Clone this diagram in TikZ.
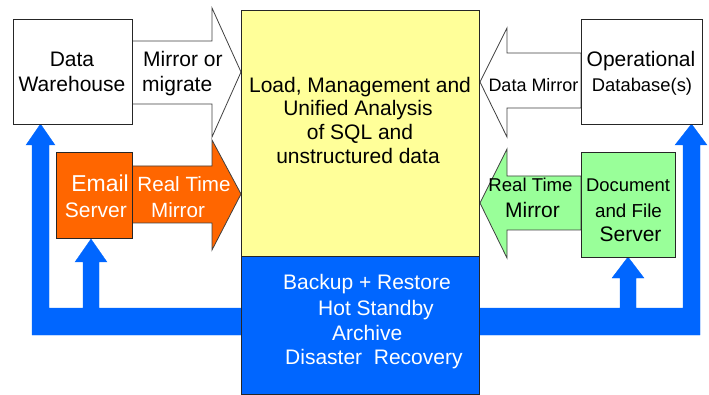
\documentclass[tikz,border=0pt]{standalone}
\usepackage{fontspec}
\setmainfont{Liberation Sans}
\definecolor{yel}{HTML}{FFFF99}
\definecolor{org}{HTML}{FF6600}
\definecolor{grn}{HTML}{99FF99}
\definecolor{blu}{HTML}{0066FF}
\definecolor{edge}{HTML}{404040}
\begin{document}
\begin{tikzpicture}[x=1pt,y=-1pt,
  box/.style={draw=black!85,line width=1.2pt,rectangle,anchor=north west,inner sep=0pt},
  barrow/.style={draw=edge,line width=0.8pt,line join=miter},
  bluearrow/.style={fill=blu,draw=blu,line width=0.3pt},
  t/.style={inner sep=0pt,anchor=base,font=\fontsize{21}{25}\selectfont},
  tw/.style={t,text=white}]
\useasboundingbox (0,0) rectangle (709,395);
% blue loops
\path[bluearrow] (40.5,124) -- (55,145) -- (49,145) -- (49,308) -- (83,308) -- (83,262) -- (75,262) -- (91,239) -- (107,262) -- (99,262) -- (99,308) -- (241,308) -- (241,335) -- (32,335) -- (32,145) -- (26,145) -- cycle;
\path[bluearrow] (691.5,124) -- (707,145) -- (700,145) -- (700,335) -- (479,335) -- (479,308) -- (620,308) -- (620,278) -- (612,278) -- (628,257) -- (644,278) -- (636,278) -- (636,308) -- (683,308) -- (683,145) -- (675,145) -- cycle;
% block arrows
\path[barrow,fill=white] (132,41) -- (212,41) -- (212,8) -- (241,72) -- (212,137) -- (212,104) -- (132,104) -- cycle;
\path[barrow,fill=org] (132,166) -- (212,166) -- (212,140) -- (241,194) -- (212,250) -- (212,223) -- (132,223) -- cycle;
\path[barrow,fill=white] (581,53) -- (507,53) -- (507,28) -- (480,82) -- (507,137) -- (507,108) -- (581,108) -- cycle;
\path[barrow,fill=grn] (581,176) -- (507,176) -- (507,149) -- (480,203) -- (507,258) -- (507,230) -- (581,230) -- cycle;
% boxes
\node[box,fill=white,minimum width=119pt,minimum height=105pt] (dw) at (13,19) {};
\node[box,fill=org,minimum width=76pt,minimum height=86pt] (email) at (56,152) {};
\node[box,fill=yel,minimum width=238pt,minimum height=246pt] (core) at (241,10) {};
\node[box,fill=blu,minimum width=238pt,minimum height=138pt] (backup) at (241,256) {};
\node[box,fill=white,minimum width=121pt,minimum height=105pt] (opdb) at (581,19) {};
\node[box,fill=grn,minimum width=94pt,minimum height=105pt] (doc) at (581,152) {};
% texts
\node[t] (dw1) at (72,67) {Data};
\node[t] (dw2) at (72,92) {Warehouse};
\node[t,anchor=base west] (mm1) at (143,67) {Mirror or};
\node[t,anchor=base west] (mm2) at (142,92) {migrate};
\node[tw,anchor=base east,font=\fontsize{23}{27}\selectfont] (em1) at (129,192) {Email};
\node[tw,anchor=base east] (em2) at (127,218) {Server};
\node[tw,font=\fontsize{20.6}{25}\selectfont] (rt1) at (184,192) {Real Time};
\node[tw,font=\fontsize{20.6}{25}\selectfont] (rt2) at (178,218) {Mirror};
\node[t] (c1) at (360,93) {Load, Management and};
\node[t] (c2) at (358,116) {Unified Analysis};
\node[t] (c3) at (360,140) {of SQL and};
\node[t] (c4) at (358,164) {unstructured data};
\node[tw,anchor=base west] (b1) at (283,290) {Backup + Restore};
\node[tw,anchor=base west] (b2) at (318,315) {Hot Standby};
\node[tw,anchor=base west] (b3) at (332,340) {Archive};
\node[tw,anchor=base west] (b4) at (285,364) {Disaster\ \ Recovery};
\node[t] (op1) at (641,67) {Operational};
\node[t,font=\fontsize{18.4}{22}\selectfont] (op2) at (642,92) {Database(s)};
\node[t,font=\fontsize{18}{22}\selectfont] (dm) at (533.5,92) {Data Mirror};
\node[t,font=\fontsize{18.6}{22}\selectfont] (gr1) at (530.5,192) {Real Time};
\node[t] (gr2) at (532.5,218) {Mirror};
\node[t,font=\fontsize{18.4}{22}\selectfont] (d1) at (628,192) {Document};
\node[t,font=\fontsize{18.8}{22}\selectfont] (d2) at (628.5,218) {and File};
\node[t] (d3) at (630.5,242) {Server};
\end{tikzpicture}
\end{document}
